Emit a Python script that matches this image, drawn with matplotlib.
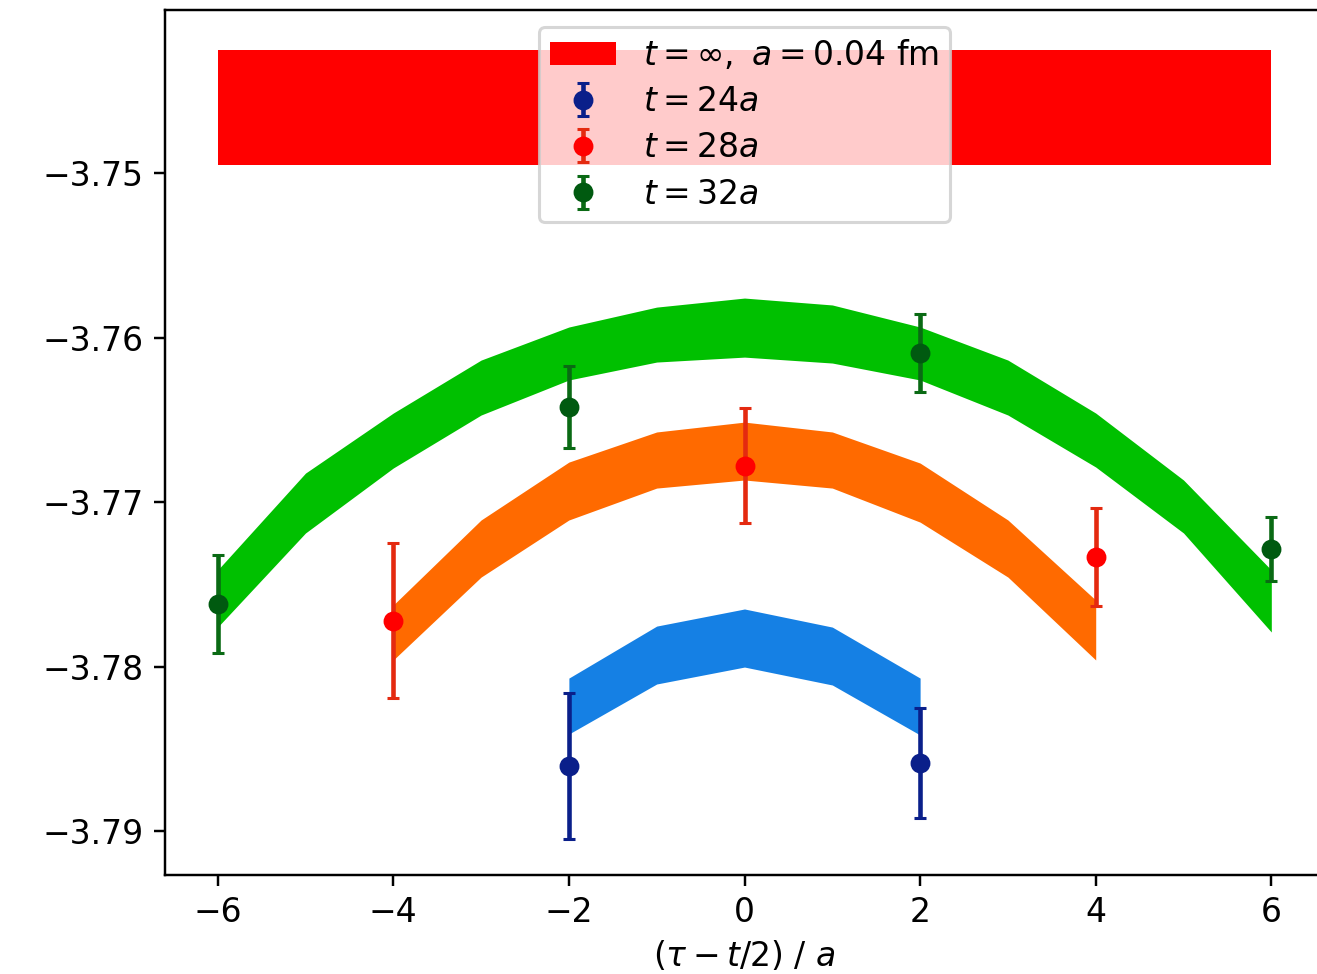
import numpy as np
from matplotlib import pyplot as plt

plt.rcParams['font.size'] = 10.8

# fit bands (upper / lower edge)
band_x32 = [-6, -5, -4, -3, -2, -1, 0, 1, 2, 3, 4, 5, 6]
band_hi32 = [-3.77413, -3.76824, -3.76459, -3.76137, -3.75936, -3.75815, -3.75760,
             -3.75802, -3.75936, -3.76137, -3.76459, -3.76866, -3.77413]
band_lo32 = [-3.77760, -3.77188, -3.76793, -3.76471, -3.76258, -3.76149, -3.76119,
             -3.76155, -3.76258, -3.76471, -3.76787, -3.77188, -3.77790]

band_x28 = [-4, -3, -2, -1, 0, 1, 2, 3, 4]
band_hi28 = [-3.77626, -3.77109, -3.76757, -3.76574, -3.76514, -3.76574, -3.76763, -3.77109, -3.77596]
band_lo28 = [-3.77960, -3.77456, -3.77109, -3.76915, -3.76866, -3.76915, -3.77122, -3.77456, -3.77960]

band_x24 = [-2, -1, 0, 1, 2]
band_hi24 = [-3.78070, -3.77754, -3.77650, -3.77760, -3.78070]
band_lo24 = [-3.78410, -3.78106, -3.78003, -3.78112, -3.78416]

inf_x = [-6, 6]
inf_hi = -3.7425
inf_lo = -3.7495

# data points
x24 = [-2, 2]
y24 = [-3.78605, -3.78587]
e24 = [0.00444, 0.00336]

x28 = [-4, 0, 4]
y28 = [-3.7772, -3.76778, -3.77334]
e28 = [0.0047, 0.0035, 0.00297]

x32 = [-6, -2, 2, 6]
y32 = [-3.7762, -3.76422, -3.76094, -3.77286]
e32 = [0.00298, 0.00248, 0.00235, 0.00193]

yticks = [-3.75, -3.76, -3.77, -3.78, -3.79]
xticks = [-6, -4, -2, 0, 2, 4, 6]

fig = plt.figure(figsize=(1317/220, 974/220), dpi=220)
ax = fig.add_axes([165/1317, 99/974, 1159/1317, 865/974])

ax.fill_between(inf_x, [inf_lo]*2, [inf_hi]*2, color='#ff0000', lw=0,
                label=r'$t = \infty,\ a = 0.04$ fm')
ax.fill_between(band_x24, band_lo24, band_hi24, color='#1580e4', lw=0)
ax.fill_between(band_x28, band_lo28, band_hi28, color='#ff6a00', lw=0)
ax.fill_between(band_x32, band_lo32, band_hi32, color='#00c000', lw=0)

ax.errorbar(x24, y24, yerr=e24, fmt='o', ms=5.5, color='#0a1f8a', capsize=2, label=r'$t = 24a$')
ax.errorbar(x28, y28, yerr=e28, fmt='o', ms=5.5, color='#ff0000', ecolor='#e42a10', capsize=2, label=r'$t = 28a$')
ax.errorbar(x32, y32, yerr=e32, fmt='o', ms=5.5, color='#005a10', ecolor='#0a6a14', capsize=2, label=r'$t = 32a$')

ax.set_xlim(-6.6, 6.6)
ax.set_ylim(-3.79267, -3.74009)
ax.set_xticks(xticks)
ax.set_yticks(yticks)
ax.set_xlabel(r'$(\tau - t/2)$ / $a$', labelpad=3)
ax.legend(loc='upper center', labelspacing=0.4, borderpad=0.35)

plt.savefig('out.png', dpi=220)
